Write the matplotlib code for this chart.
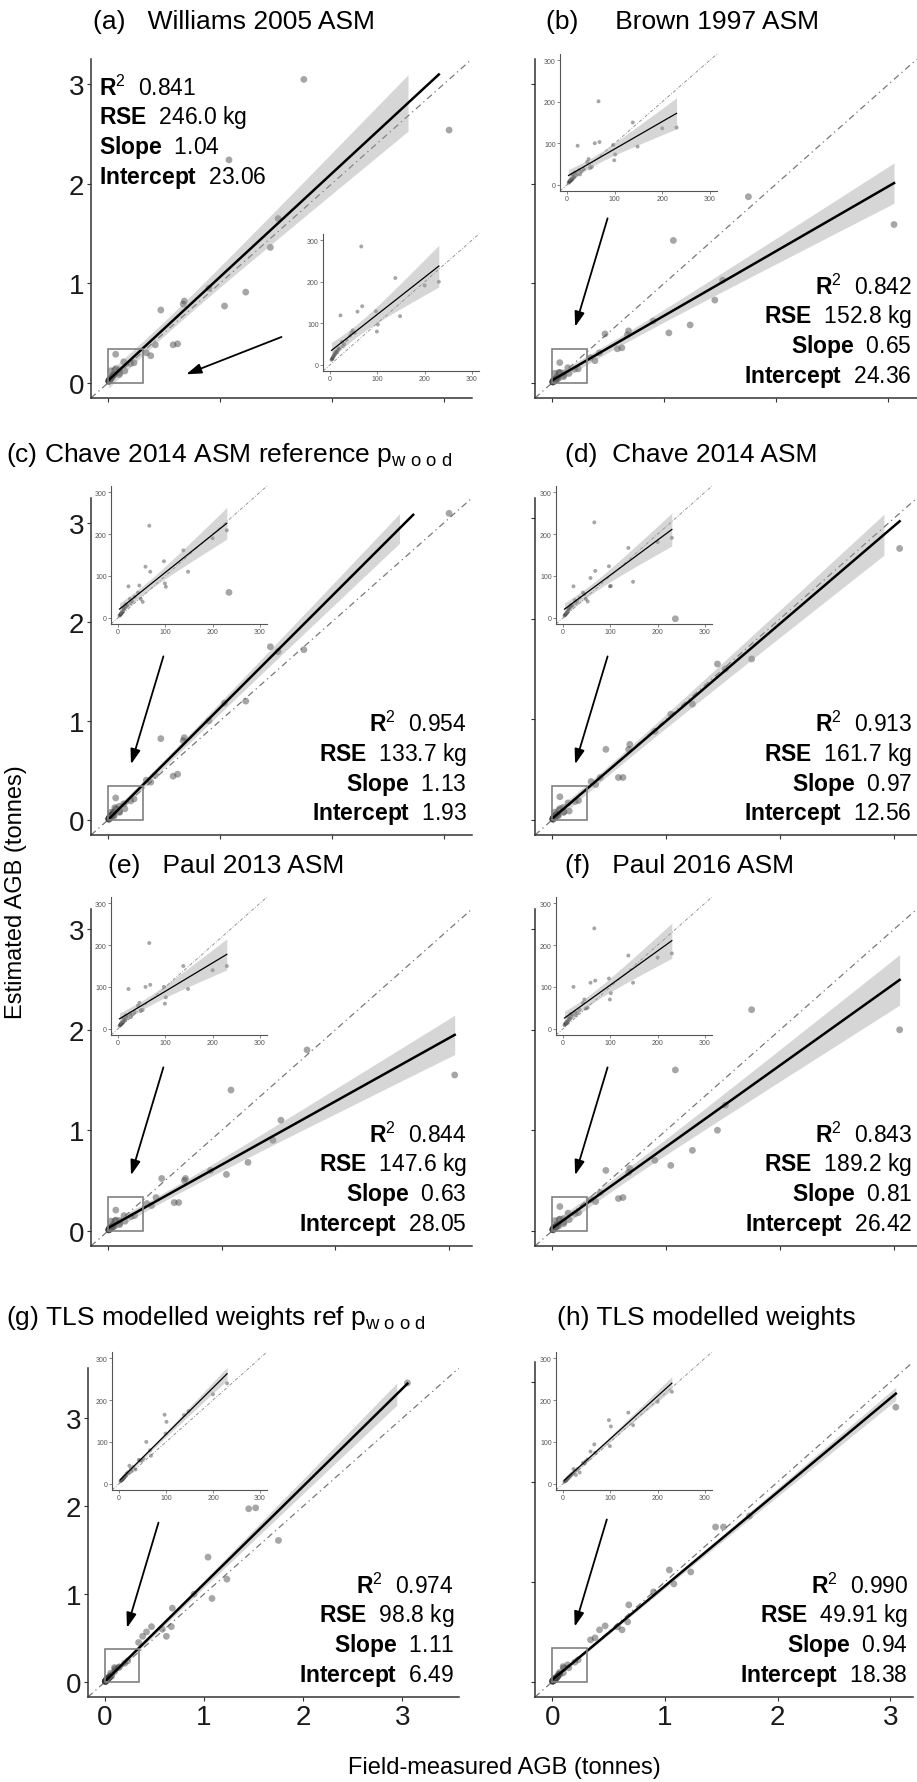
import numpy as np
import matplotlib
matplotlib.use("Agg")
import matplotlib.pyplot as plt
from matplotlib.patches import Rectangle

plt.rcParams["font.family"] = ["Liberation Sans", "DejaVu Sans"]
plt.rcParams["mathtext.fontset"] = "custom"
plt.rcParams["mathtext.rm"] = "Liberation Sans"
plt.rcParams["mathtext.bf"] = "Liberation Sans:bold"
plt.rcParams["mathtext.it"] = "Liberation Sans:italic"

# ---- data (kg) : same trees in every panel ----
FIELD_KG = [3050, 1750, 1520, 1450, 1230, 1080, 1040, 900, 680, 670, 620, 580, 470, 420, 380, 340,
            230, 200, 148, 138, 101, 99, 97, 68, 66, 58, 52, 48, 45, 42, 22, 35, 30, 27, 25, 20,
            18, 16, 15, 13, 12, 11, 10, 9, 8, 7, 6, 5, 4, 3]

EST_WILLIAMS = [2540, 3050, 1650, 1360, 910, 2240, 770, 950, 820, 790, 390, 380, 730, 380, 270, 300,
                200, 191, 117, 209, 97, 80, 129, 141, 285, 128, 77, 83, 77, 70, 119, 60, 50, 45, 55, 40,
                38, 35, 30, 32, 28, 30, 25, 24, 22, 20, 18, 15, 14, 12]
EST_BROWN = [1590, 1870, 1030, 830, 580, 1430, 500, 620, 520, 480, 350, 340, 490, 300, 220, 250,
             138, 136, 92, 150, 73, 59, 96, 103, 201, 100, 43, 40, 62, 55, 94, 38, 32, 25, 35, 28,
             22, 30, 18, 20, 15, 25, 12, 14, 10, 12, 8, 9, 6, 5]
EST_CHAVE_REF = [3100, 1720, 1700, 1750, 1200, 2300, 1180, 1000, 830, 800, 460, 440, 820, 450, 380, 400,
                 209, 190, 110, 161, 74, 82, 135, 110, 220, 122, 38, 45, 77, 60, 75, 50, 40, 35, 45, 30,
                 28, 32, 25, 22, 20, 24, 15, 14, 12, 10, 9, 8, 6, 5]
EST_CHAVE = [2700, 1600, 1500, 1550, 1150, 2000, 1050, 880, 750, 700, 420, 420, 700, 420, 350, 380,
             191, 181, 86, 167, 76, 75, 123, 112, 228, 95, 39, 45, 56, 60, 75, 48, 40, 35, 42, 30,
             28, 30, 25, 22, 20, 22, 15, 14, 12, 10, 9, 8, 6, 5]
EST_PAUL13 = [1550, 1800, 1100, 900, 680, 1400, 560, 600, 520, 500, 280, 280, 520, 330, 250, 270,
              150, 140, 95, 150, 75, 60, 100, 105, 205, 100, 45, 42, 62, 55, 95, 40, 34, 28, 36, 30,
              25, 32, 20, 22, 18, 26, 15, 16, 12, 14, 10, 11, 8, 7]
EST_PAUL16 = [2000, 2200, 1250, 1000, 800, 1600, 650, 700, 620, 580, 330, 320, 600, 380, 290, 310,
              180, 170, 110, 175, 85, 70, 120, 115, 240, 110, 50, 48, 70, 62, 100, 45, 38, 32, 40, 34,
              28, 35, 24, 25, 20, 28, 17, 18, 14, 16, 12, 13, 10, 9]
EST_TLS_REF = [3400, 1610, 1980, 1970, 1170, 950, 1420, 1000, 840, 630, 520, 600, 630, 570, 520, 450,
               240, 214, 174, 164, 148, 120, 165, 67, 80, 100, 60, 55, 56, 57, 43, 34, 40, 30, 35, 28,
               25, 24, 20, 18, 16, 17, 14, 12, 11, 10, 9, 8, 7, 6]
EST_TLS = [2750, 1660, 1550, 1550, 1100, 980, 1120, 900, 770, 600, 520, 550, 560, 520, 440, 420,
           220, 196, 140, 170, 137, 90, 152, 74, 94, 77, 58, 54, 48, 50, 35, 27, 35, 21, 30, 25,
           22, 20, 18, 17, 15, 14, 13, 12, 10, 9, 8, 7, 6, 5]

TAGS = ["(a)", "(b)", "(c)", "(d)", "(e)", "(f)", "(g)", "(h)"]
NAMES = ["  Williams 2005 ASM", "    Brown 1997 ASM",
         r"Chave 2014 ASM reference p$_{\mathrm{w\ o\ o\ d}}$", " Chave 2014 ASM",
         "  Paul 2013 ASM", "  Paul 2016 ASM",
         r"TLS modelled weights ref p$_{\mathrm{w\ o\ o\ d}}$", "TLS modelled weights"]
ESTIMATES = [EST_WILLIAMS, EST_BROWN, EST_CHAVE_REF, EST_CHAVE,
             EST_PAUL13, EST_PAUL16, EST_TLS_REF, EST_TLS]
R2 = ["0.841", "0.842", "0.954", "0.913", "0.844", "0.843", "0.974", "0.990"]
RSE = ["246.0", "152.8", "133.7", "161.7", "147.6", "189.2", "98.8", "49.91"]
SLOPE = [1.04, 0.65, 1.13, 0.97, 0.63, 0.81, 1.11, 0.94]
INTERCEPT = [23.06, 24.36, 1.93, 12.56, 28.05, 26.42, 6.49, 18.38]
LIMIT = [3.1, 3.1, 3.1, 3.05, 3.05, 3.05, 3.4, 3.05]

# ---- layout in pixels of the 917 x 1783 canvas ----
W, H = 917, 1783
MAIN_BOX = [(91, 60, 472, 399), (535, 60, 917, 399),
            (91, 499, 472, 836), (535, 499, 917, 836),
            (91, 910, 472, 1247), (535, 910, 917, 1247),
            (88, 1369, 459, 1698), (535, 1363, 913, 1698)]
INSET_BOX = [(323, 235, 479, 372), (560, 55, 717, 192),
             (111, 487, 267, 625), (556, 487, 712, 625),
             (111, 898, 267, 1036), (556, 898, 712, 1036),
             (112, 1353, 267, 1491), (556, 1353, 712, 1491)]
TITLE_XY = [(93, 22), (546, 22), (6, 455), (565, 455),
            (108, 866), (565, 866), (6, 1318), (557, 1318)]

PT_COL = "#3a3a3a"
AX_COL = "#333333"


def fig_rect(box):
    x0, y0, x1, y1 = box
    return [x0 / W, 1 - y1 / H, (x1 - x0) / W, (y1 - y0) / H]


def conf_band(x, y, slope, icpt, rse, grid):
    x = np.asarray(x, float)
    xb = x.mean()
    sxx = ((x - xb) ** 2).sum()
    half = 2.01 * rse * np.sqrt(1 / len(x) + (grid - xb) ** 2 / sxx)
    fit = slope * grid + icpt
    return fit, fit - half, fit + half


fig = plt.figure(figsize=(W / 100, H / 100), dpi=100)

for i in range(8):
    x_t = np.array(FIELD_KG) / 1000
    y_t = np.array(ESTIMATES[i]) / 1000
    L = LIMIT[i]
    ax = fig.add_axes(fig_rect(MAIN_BOX[i]))
    lo, hi = -0.05 * L, 1.05 * L
    ax.set_xlim(lo, hi)
    ax.set_ylim(lo, hi)

    ax.plot([lo, hi], [lo, hi], color="#777777", lw=0.9, dashes=(5, 3, 1, 3), zorder=1)
    ax.scatter(x_t, y_t, s=24, color=PT_COL, alpha=0.45, edgecolors="none", zorder=2)

    grid = np.linspace(x_t.min(), x_t.max(), 200)
    fit, low, upp = conf_band(x_t, y_t, SLOPE[i], INTERCEPT[i] / 1000, float(RSE[i]) / 1000, grid)
    band_ok = upp <= L * 1.0001
    line_ok = fit <= L * 1.0001
    ax.fill_between(grid[band_ok], low[band_ok], upp[band_ok], color="#999999", alpha=0.4,
                    lw=0, zorder=3)
    ax.plot(grid[line_ok], fit[line_ok], color="black", lw=1.8, zorder=4)

    ax.add_patch(Rectangle((0, 0), 0.1 * L, 0.11 * L, fill=False, edgecolor="#808080",
                           lw=1.2, zorder=5))

    if i == 0:
        ax.annotate("", xy=(0.25, 0.07), xytext=(0.5, 0.18), xycoords="axes fraction",
                    arrowprops=dict(arrowstyle="-|>,head_length=0.9,head_width=0.3",
                                    color="black", lw=1.3, shrinkA=0, shrinkB=0))
    else:
        ax.annotate("", xy=(0.105, 0.21), xytext=(0.19, 0.53), xycoords="axes fraction",
                    arrowprops=dict(arrowstyle="-|>,head_length=0.9,head_width=0.3",
                                    color="black", lw=1.3, shrinkA=0, shrinkB=0))

    for s in ["top", "right"]:
        ax.spines[s].set_visible(False)
    for s in ["left", "bottom"]:
        ax.spines[s].set_color(AX_COL)
        ax.spines[s].set_linewidth(1.1)
    ax.set_xticks([0, 1, 2, 3])
    ax.set_yticks([0, 1, 2, 3])
    ax.tick_params(colors=AX_COL, length=3, width=0.8, labelsize=20, labelcolor="#1a1a1a", pad=2)
    if i % 2 == 1:
        ax.set_yticklabels([])
    if i < 6:
        ax.set_xticklabels([])

    lines = [(r"$\mathbf{R}^{2}$  " + R2[i]),
             (r"$\mathbf{RSE}$  " + RSE[i] + " kg"),
             (r"$\mathbf{Slope}$  " + f"{SLOPE[i]:.2f}"),
             (r"$\mathbf{Intercept}$  " + f"{INTERCEPT[i]:.2f}")]
    for k, txt in enumerate(lines):
        if i == 0:
            ax.annotate(txt, xy=(0, 1), xycoords="axes fraction", xytext=(8, -28 - 30 * k),
                        textcoords="offset pixels", ha="left", va="center", fontsize=16.5)
        else:
            ax.annotate(txt, xy=(1, 0), xycoords="axes fraction", xytext=(-5, 112 - 30 * k),
                        textcoords="offset pixels", ha="right", va="center", fontsize=16.5)

    # ---- inset: trees below 250 kg, in kg ----
    xs = np.array(FIELD_KG, float)
    ys = np.array(ESTIMATES[i], float)
    keep = xs < 250
    xs, ys = xs[keep], ys[keep]
    ins = fig.add_axes(fig_rect(INSET_BOX[i]))
    ins.set_xlim(-15, 315)
    ins.set_ylim(-15, 315)
    ins.plot([-15, 315], [-15, 315], color="#888888", lw=0.6, dashes=(4, 2, 1, 2), zorder=1)
    ins.scatter(xs, ys, s=8, color=PT_COL, alpha=0.45, edgecolors="none", zorder=2)
    b, a = np.polyfit(xs, ys, 1)
    res = ys - (a + b * xs)
    s_res = np.sqrt((res ** 2).sum() / (len(xs) - 2))
    g2 = np.linspace(xs.min(), xs.max(), 100)
    f2, l2, u2 = conf_band(xs, ys, b, a, s_res, g2)
    ins.fill_between(g2, l2, u2, color="#999999", alpha=0.4, lw=0, zorder=3)
    ins.plot(g2, f2, color="black", lw=0.9, zorder=4)
    for s in ["top", "right"]:
        ins.spines[s].set_visible(False)
    for s in ["left", "bottom"]:
        ins.spines[s].set_color("#555555")
        ins.spines[s].set_linewidth(0.8)
    ins.set_xticks([0, 100, 200, 300])
    ins.set_yticks([0, 100, 200, 300])
    ins.tick_params(colors="#555555", length=2, width=0.5, labelsize=5, labelcolor="#555555", pad=1)
    ins.patch.set_alpha(0)

    tx, ty = TITLE_XY[i]
    fig.text(tx / W, 1 - ty / H, TAGS[i] + " " + NAMES[i], fontsize=19, ha="left", va="center")

fig.text(504 / W, 1 - 1768 / H, "Field-measured AGB (tonnes)", fontsize=17, ha="center", va="center")
fig.text(16 / W, 1 - 892 / H, "Estimated AGB (tonnes)", fontsize=17, ha="center", va="center",
         rotation=90)

fig.savefig("out.png", dpi=100, facecolor="white")
